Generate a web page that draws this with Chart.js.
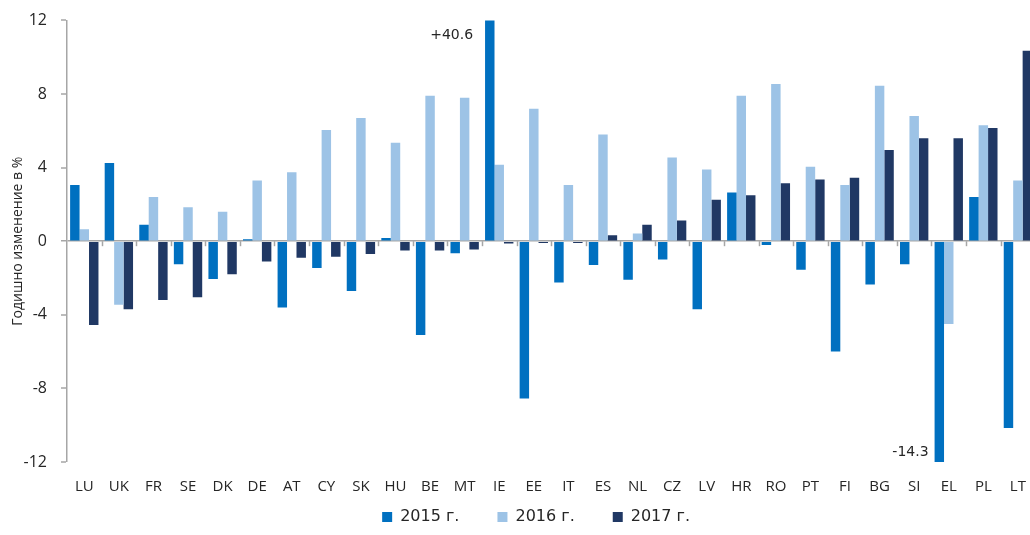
<!DOCTYPE html>
<html>
<head>
<meta charset="utf-8">
<script src="https://cdn.jsdelivr.net/npm/chart.js@4.4.1/dist/chart.umd.min.js"></script>
<style>
html, body { margin: 0; padding: 0; overflow: hidden; background: #fff; }
#wrap { width: 1030px; height: 535px; overflow: hidden; }
</style>
</head>
<body>
<div id="wrap"><canvas id="chart" width="1042" height="535"></canvas></div>
<script>
const countries = ['LU', 'UK', 'FR', 'SE', 'DK', 'DE', 'AT', 'CY', 'SK', 'HU', 'BE', 'MT', 'IE', 'EE',
    'IT', 'ES', 'NL', 'CZ', 'LV', 'HR', 'RO', 'PT', 'FI', 'BG', 'SI', 'EL', 'PL', 'LT']
const y2015 = [3.05, 4.25, 0.9, -1.25, -2.05, 0.1, -3.6, -1.45, -2.7, 0.18, -5.1, -0.65, 40.6, -8.55,
    -2.25, -1.3, -2.1, -1.0, -3.7, 2.65, -0.2, -1.55, -6.0, -2.35, -1.25, -14.3, 2.4, -10.15]
const y2016 = [0.65, -3.45, 2.4, 1.85, 1.6, 3.3, 3.75, 6.05, 6.7, 5.35, 7.9, 7.8, 4.15, 7.2,
    3.05, 5.8, 0.42, 4.55, 3.9, 7.9, 8.55, 4.05, 3.05, 8.45, 6.8, -4.5, 6.3, 3.3]
const y2017 = [-4.55, -3.7, -3.2, -3.05, -1.8, -1.1, -0.9, -0.85, -0.7, -0.5, -0.5, -0.45, -0.12, -0.1,
    -0.1, 0.33, 0.9, 1.13, 2.25, 2.5, 3.15, 3.35, 3.45, 4.95, 5.6, 5.6, 6.15, 10.35]
const seriesNames = ['2015 г.', '2016 г.', '2017 г.']
const yTicks = [-12, -8, -4, 0, 4, 8, 12]
// values that run off the scale get a note next to the bar
const notes = [
    { series: 0, country: 'IE', text: '+40.6', edge: 'top' },
    { series: 0, country: 'EL', text: '-14.3', edge: 'bottom' }
]

const font = 'Open Sans'
const wideFont = 'DejaVu Sans'
const textColor = '#262626'
const axisColor = '#a6a6a6'

// small marks between the categories, hanging from the zero line
var categoryTicks = {
    id: 'categoryTicks',
    afterDraw: function (chart) {
        var ctx = chart.ctx
        var x = chart.scales.x
        var y0 = chart.scales.y.getPixelForValue(0)
        ctx.save()
        ctx.strokeStyle = axisColor
        ctx.lineWidth = 1.5
        for (var i = 1; i < countries.length; i++) {
            var px = Math.round((x.getPixelForValue(i - 1) + x.getPixelForValue(i)) / 2) + 0.5
            ctx.beginPath()
            ctx.moveTo(px, y0)
            ctx.lineTo(px, y0 + 5)
            ctx.stroke()
        }
        ctx.restore()
    }
}

var offScaleNotes = {
    id: 'offScaleNotes',
    afterDatasetsDraw: function (chart) {
        var ctx = chart.ctx
        var area = chart.chartArea
        ctx.save()
        ctx.font = '14px "' + wideFont + '"'
        ctx.fillStyle = textColor
        ctx.textAlign = 'right'
        ctx.textBaseline = 'middle'
        notes.forEach(function (n) {
            var bar = chart.getDatasetMeta(n.series).data[countries.indexOf(n.country)]
            var top = n.edge === 'top'
            var tx = bar.x - bar.width / 2 - (top ? 12 : 6)
            var ty = top ? area.top + 15 : area.bottom - 10
            ctx.fillText(n.text, tx, ty)
        })
        ctx.restore()
    }
}

// the legend items are spaced wide apart, so let its box reach up under the x labels
// and sit a little left of the plot centre like the original
var legendRoom = {
    id: 'legendRoom',
    afterLayout: function (chart) {
        var lg = chart.legend
        lg.top = chart.chartArea.bottom + 9
        lg.height = lg.bottom - lg.top
        lg.left -= 15
        lg.right -= 15
    }
}

var chartData = {
    labels: countries,
    datasets: [{
            label: seriesNames[0],
            data: y2015,
            backgroundColor: '#0070c0'
        },
        {
            label: seriesNames[1],
            data: y2016,
            backgroundColor: '#9dc3e6'
        },
        {
            label: seriesNames[2],
            data: y2017,
            backgroundColor: '#203864'
        }
    ]
}

var chart = new Chart(document.getElementById('chart').getContext('2d'), {
    type: 'bar',
    data: chartData,
    plugins: [categoryTicks, offScaleNotes, legendRoom],
    options: {
        responsive: false,
        animation: false,
        devicePixelRatio: 1,
        layout: {
            padding: { top: 14, right: 2, bottom: 0, left: 0 }
        },
        datasets: {
            bar: {
                categoryPercentage: 0.82,
                barPercentage: 1.0,
                borderWidth: 0
            }
        },
        scales: {
            x: {
                grid: { display: false, drawTicks: false },
                border: { display: false },
                ticks: {
                    color: textColor,
                    font: { family: font, size: 15 },
                    padding: 16,
                    maxRotation: 0,
                    autoSkip: false
                },
                afterFit: function (scale) {
                    scale.height = 34
                }
            },
            y: {
                min: -12,
                max: 12,
                afterBuildTicks: function (scale) {
                    scale.ticks = yTicks.map(function (v) { return { value: v } })
                },
                grid: {
                    drawOnChartArea: true,
                    color: axisColor,
                    lineWidth: function (c) { return c.tick && c.tick.value === 0 ? 1.5 : 0 },
                    tickColor: axisColor,
                    tickWidth: 1.5,
                    tickLength: 6
                },
                border: { display: true, color: axisColor, width: 1.5 },
                ticks: {
                    color: textColor,
                    // small line height keeps the top label from pushing the plot down
                    font: { family: font, size: 16, lineHeight: 0.8 },
                    padding: 14
                },
                title: {
                    display: true,
                    text: 'Годишно изменение в %',
                    color: textColor,
                    font: { family: font, size: 14 },
                    padding: { top: 10, bottom: 0 }
                },
                afterFit: function (scale) {
                    scale.width = 67
                }
            }
        },
        plugins: {
            legend: {
                position: 'bottom',
                fullSize: false,
                maxHeight: 39,
                labels: {
                    color: textColor,
                    font: { family: wideFont, size: 16 },
                    boxWidth: 10,
                    boxHeight: 10,
                    padding: 38
                }
            },
            tooltip: { enabled: false }
        }
    }
})
</script>
</body>
</html>
